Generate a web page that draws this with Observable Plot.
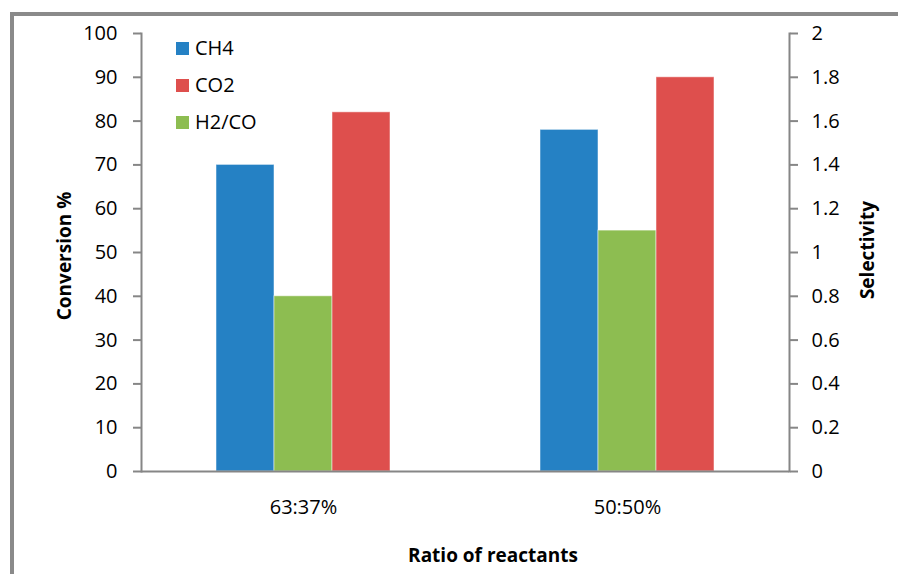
<!DOCTYPE html>
<html>
<head>
<meta charset="utf-8">
<script src="https://cdn.jsdelivr.net/npm/d3@7"></script>
<script src="https://cdn.jsdelivr.net/npm/@observablehq/plot@0.6"></script>
<style>
  html, body { margin: 0; padding: 0; background: #fff; overflow: hidden; }
  #wrap { position: relative; width: 898px; height: 574px; overflow: hidden; font-family: "Open Sans", sans-serif; color: #000; }
  #border { position: absolute; left: 10px; top: 12px; width: 950px; height: 650px; border: 4px solid #8a8a8a; box-sizing: border-box; }
  #chart { position: absolute; left: 0; top: 0; }
  .title { position: absolute; font-weight: bold; font-size: 19px; line-height: 1; white-space: nowrap; transform: translate(-50%, -50%); }
  .rot { transform: translate(-50%, -50%) rotate(-90deg); }
  #legend { position: absolute; left: 176px; top: 36px; font-size: 20px; }
  .item { height: 37px; line-height: 24px; display: flex; align-items: flex-start; }
  .sw { width: 13px; height: 13px; margin-top: 6px; margin-right: 6px; }
</style>
</head>
<body>
<div id="wrap">
  <div id="border"></div>
  <div id="chart"></div>
  <div id="legend"></div>
  <div class="title rot" style="left:64px; top:256px;">Conversion %</div>
  <div class="title rot" style="left:867px; top:250px;">Selectivity</div>
  <div class="title" style="left:493px; top:555px;">Ratio of reactants</div>
</div>
<script>
// ---- data ----
const ratios = ["63:37%", "50:50%"];
const legendOrder = ["CH4", "CO2", "H2/CO"];
const barOrder = ["CH4", "H2/CO", "CO2"];
const colors = ["#2581c4", "#de4f4d", "#8dbd51"];
const ch4Conversion = [70, 78];      // %
const co2Conversion = [82, 90];      // %
const h2coSelectivity = [0.8, 1.1];  // right axis
const convTicks = [0, 10, 20, 30, 40, 50, 60, 70, 80, 90, 100];
const selTickLabels = ["0", "0.2", "0.4", "0.6", "0.8", "1", "1.2", "1.4", "1.6", "1.8", "2"];
const convMax = 100, selMax = 2;

const k = convMax / selMax;
const rows = [];
ratios.forEach((r, i) => {
  rows.push({ratio: r, species: "CH4", value: ch4Conversion[i]});
  rows.push({ratio: r, species: "H2/CO", value: h2coSelectivity[i] * k});
  rows.push({ratio: r, species: "CO2", value: co2Conversion[i]});
});

const axisGray = "#868686";
const plot = Plot.plot({
  width: 898,
  height: 574,
  marginLeft: 141,
  marginRight: 109,
  marginTop: 33,
  marginBottom: 103,
  style: {fontFamily: "'Open Sans', sans-serif", fontSize: "20px", color: "#000", background: "transparent", overflow: "visible"},
  fx: {domain: ratios, padding: 0, axis: null, label: null},
  x: {domain: barOrder, paddingInner: 0, paddingOuter: 1.2458, axis: null},
  y: {domain: [0, convMax], axis: null},
  color: {domain: legendOrder, range: colors},
  marks: [
    Plot.barY(rows, {fx: "ratio", x: "species", y: "value", fill: "species", stroke: "#fff", strokeOpacity: 0.5, strokeWidth: 1}),
    Plot.ruleY([0], {stroke: axisGray, strokeWidth: 2}),
    Plot.frame({anchor: "left", stroke: axisGray, strokeWidth: 2, facet: "super"}),
    Plot.frame({anchor: "right", stroke: axisGray, strokeWidth: 2, facet: "super"}),
    Plot.axisY(convTicks, {anchor: "left", tickSize: 8, tickPadding: 16, stroke: axisGray, strokeWidth: 2, fill: "#000", label: null}),
    Plot.axisY(convTicks, {anchor: "right", tickSize: 8, tickPadding: 14, stroke: axisGray, strokeWidth: 2, fill: "#000", label: null,
      tickFormat: (d, i) => selTickLabels[i]}),
    Plot.axisFx({anchor: "bottom", tickSize: 0, tickPadding: 28, fill: "#000", label: null})
  ]
});
document.getElementById("chart").appendChild(plot);

// legend
const legend = document.getElementById("legend");
legendOrder.forEach((s, i) => {
  const item = document.createElement("div");
  item.className = "item";
  const sw = document.createElement("div");
  sw.className = "sw";
  sw.style.background = colors[i];
  const t = document.createElement("span");
  t.textContent = s;
  item.appendChild(sw);
  item.appendChild(t);
  legend.appendChild(item);
});
</script>
</body>
</html>
